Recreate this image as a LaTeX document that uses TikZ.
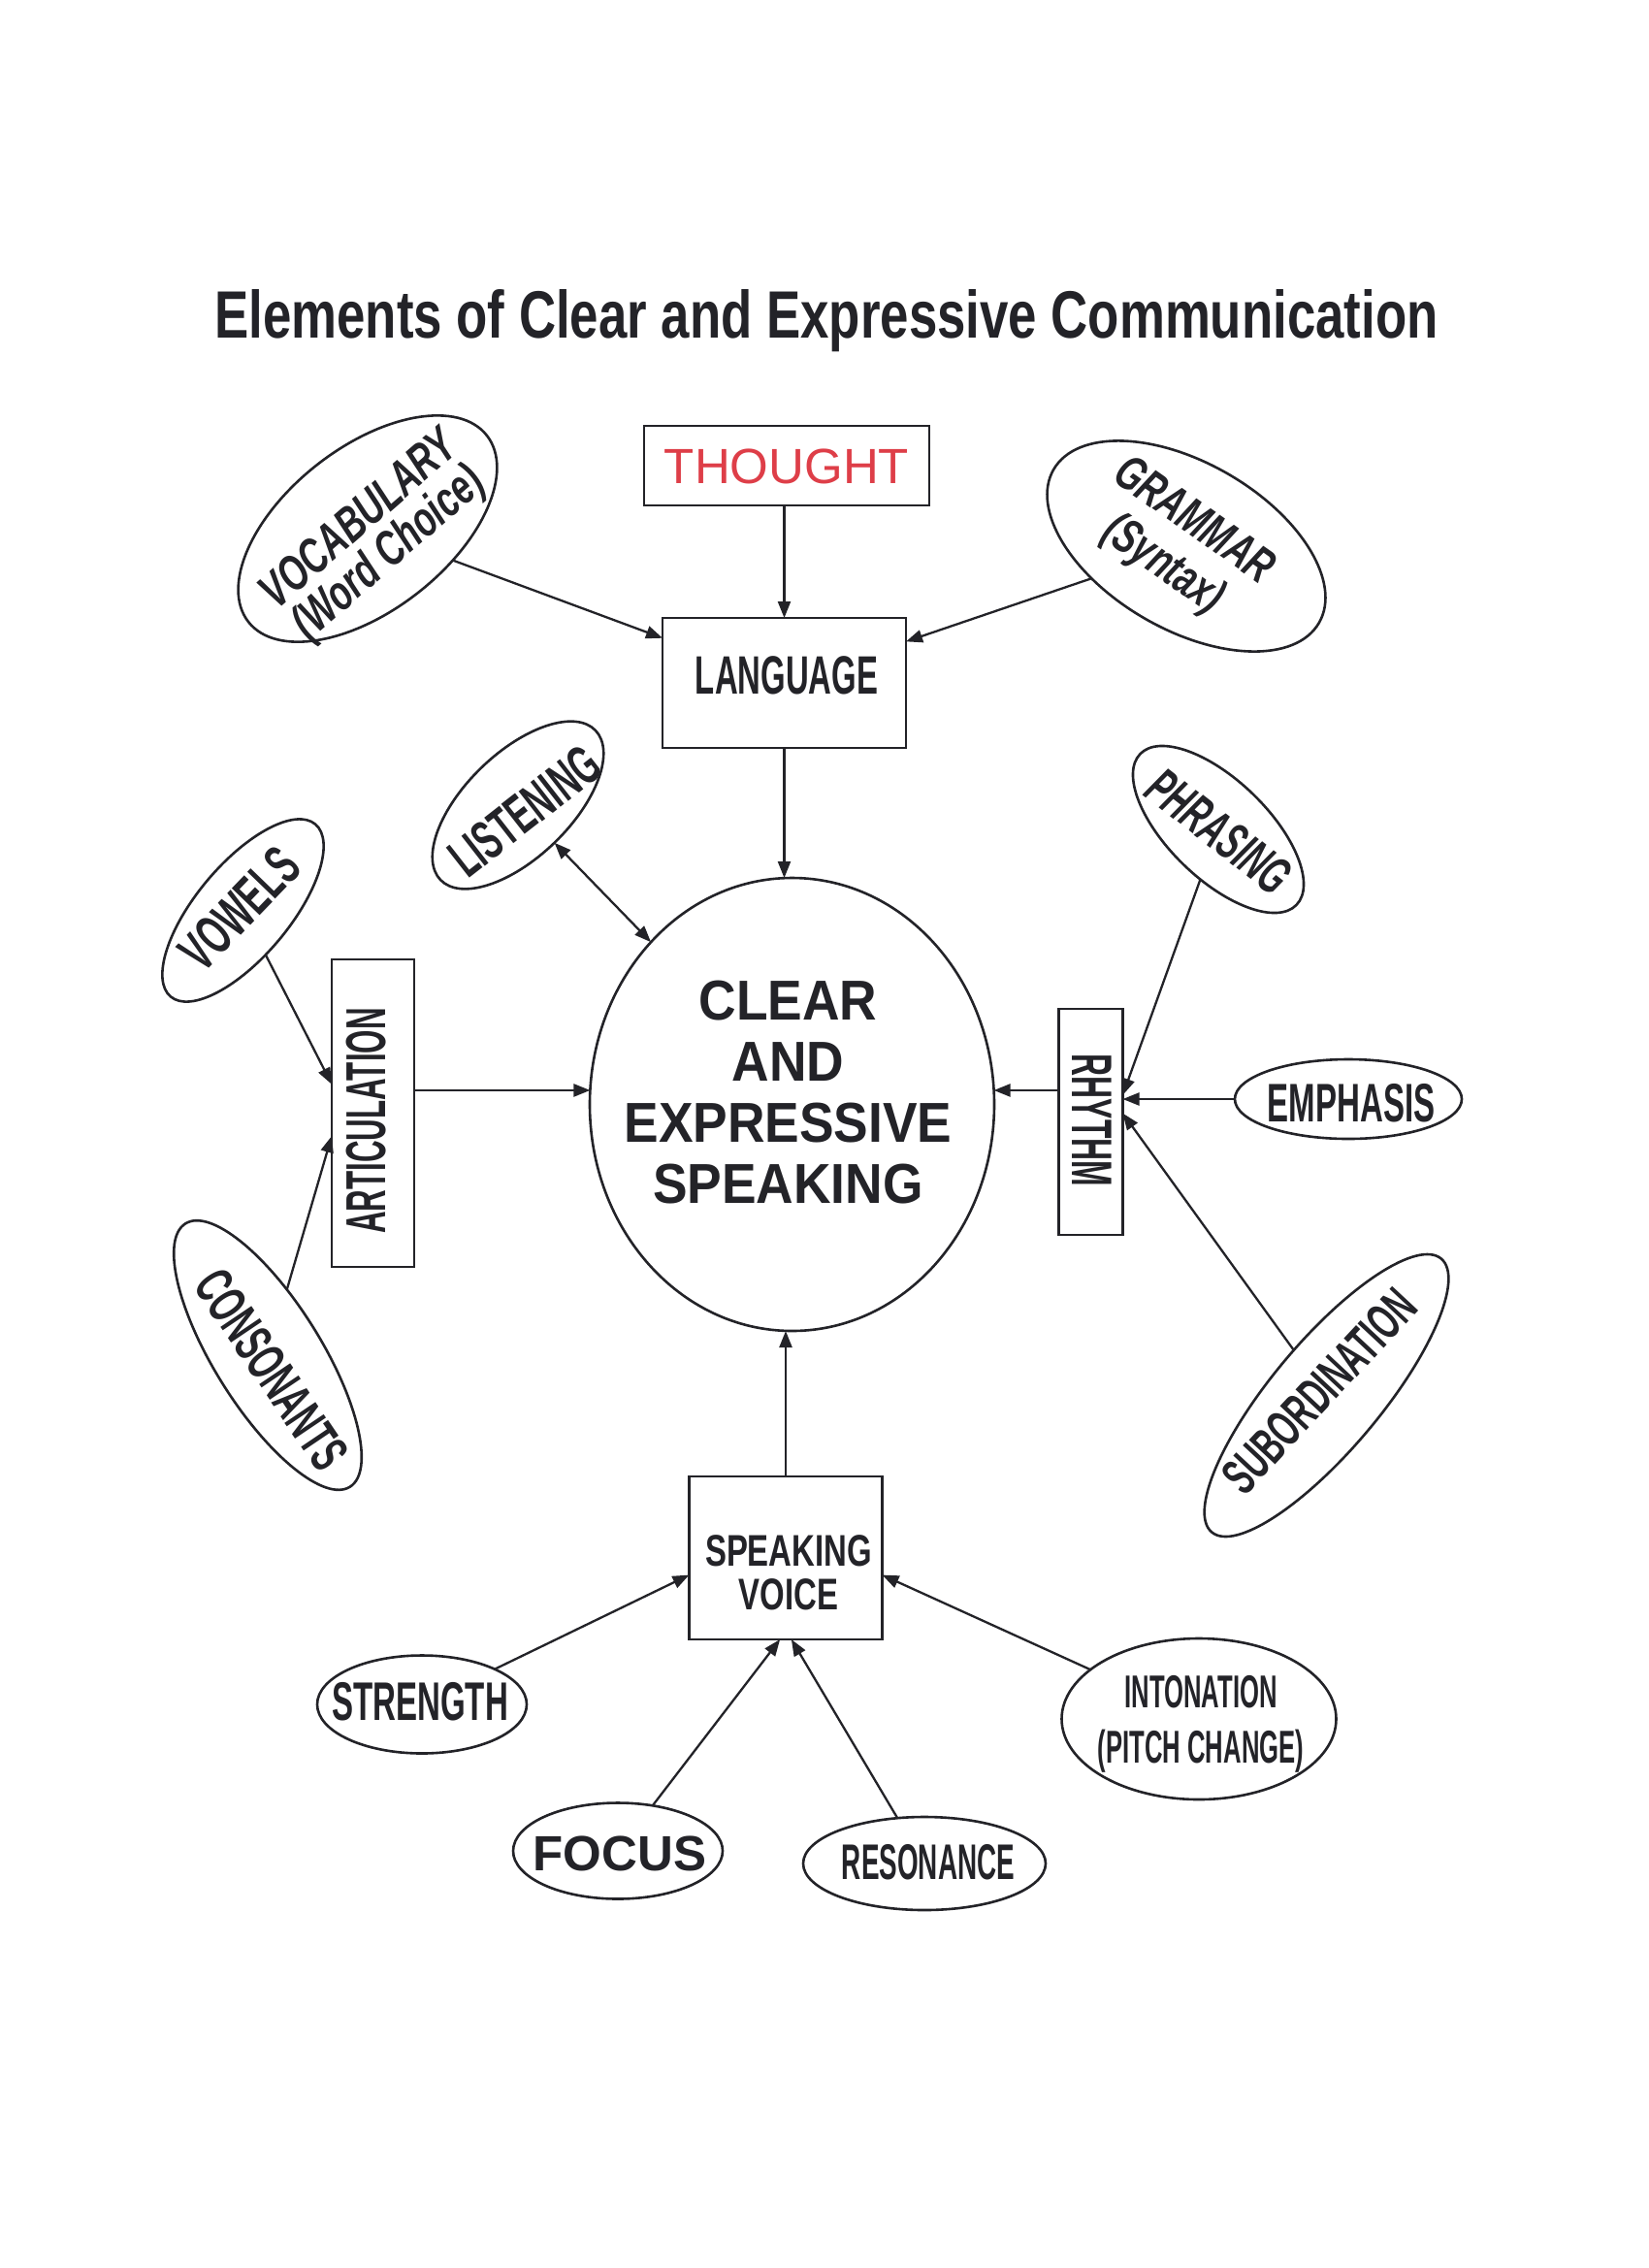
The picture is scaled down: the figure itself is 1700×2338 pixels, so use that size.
\documentclass[tikz,border=0pt]{standalone}
\usepackage{fontspec}
\setmainfont{Liberation Sans}
\newfontfamily\fTitle[FakeStretch=0.765]{Liberation Sans}
\newfontfamily\fN[FakeStretch=0.59]{Liberation Sans}
\newfontfamily\fNN[FakeStretch=0.54]{Liberation Sans}
\newfontfamily\fM[FakeStretch=0.72]{Liberation Sans}
\newfontfamily\fI[FakeStretch=0.70]{Liberation Sans}
\newfontfamily\fC[FakeStretch=0.92]{Liberation Sans}
\usetikzlibrary{shapes.geometric,arrows.meta}
\definecolor{ink}{RGB}{35,35,40}
\definecolor{thoughtred}{RGB}{222,62,72}
\begin{document}
\begin{tikzpicture}[x=1pt,y=-1pt,
  every node/.style={inner sep=0pt, outer sep=0pt, text=ink},
  box/.style={draw=ink, line width=2.8pt, rectangle},
  oval/.style={draw=ink, line width=2.6pt, ellipse},
  arr/.style={draw=ink, line width=2.3pt, -{Triangle[length=17pt,width=13pt]}},
  dbl/.style={draw=ink, line width=2.3pt, {Triangle[length=17pt,width=13pt]}-{Triangle[length=17pt,width=13pt]}},
]
\fill[white] (0,0) rectangle (1700,2338);
\useasboundingbox (0,0) rectangle (1700,2338);

% title
\node[anchor=base, font={\fontsize{69}{72}\selectfont\fTitle\bfseries}] (title) at (852,348) {Elements of Clear and Expressive Communication};

% boxes
\node[box, minimum width=294, minimum height=82] (thought) at (811,480) {};
\node[text=thoughtred, font={\fontsize{51}{55}\selectfont}] (thought-t) at (811,481) {THOUGHT};
\node[box, minimum width=251, minimum height=134] (lang) at (808.5,704) {};
\node[font={\fontsize{55.7}{60}\selectfont\fN\bfseries}] (lang-t) at (811,696) {LANGUAGE};
\node[box, minimum width=85, minimum height=317] (art) at (384.5,1147.5) {};
\node[rotate=90, font={\fontsize{58}{60}\selectfont\fNN\bfseries}] (art-t) at (378,1155.5) {ARTICULATION};
\node[box, minimum width=66, minimum height=233] (rh) at (1124.5,1156.5) {};
\node[rotate=-90, font={\fontsize{59}{60}\selectfont\fNN\bfseries}] (rh-t) at (1126,1155) {RHYTHM};
\node[box, minimum width=199, minimum height=168] (sv) at (810,1606) {};
\node[align=center, font={\fontsize{45.7}{45}\selectfont\fM\bfseries}] (sv-t) at (813,1621) {SPEAKING\\VOICE};

% centre
\node[oval, minimum width=417, minimum height=467] (c) at (816.5,1138.5) {};
\node[align=center, font={\fontsize{58}{62.7}\selectfont\fC\bfseries}] (c-t) at (812.5,1126) {CLEAR\\AND\\EXPRESSIVE\\SPEAKING};

% ovals
\node[oval, rotate=38, minimum width=312, minimum height=168] (voc) at (379,545) {};
\node[rotate=41, align=center, font={\fontsize{51}{46}\selectfont\fI\bfseries\itshape}] (voc-t) at (387,555) {VOCABULARY\\(Word Choice)};
\node[oval, rotate=-30, minimum width=316, minimum height=172] (gram) at (1223,563) {};
\node[rotate=-35, align=center, font={\fontsize{50.5}{55}\selectfont\fI\bfseries\itshape}] (gram-t) at (1214,561) {GRAMMAR\\(Syntax)};
\node[oval, rotate=44, minimum width=222, minimum height=108] (listen) at (534,830) {};
\node[rotate=38, font={\fontsize{57}{60}\selectfont\fN\bfseries}] (listen-t) at (541,836) {LISTENING};
\node[oval, rotate=50, minimum width=232, minimum height=96] (vow) at (250.5,938.5) {};
\node[rotate=46, font={\fontsize{58}{60}\selectfont\fN\bfseries}] (vow-t) at (247,937) {VOWELS};
\node[oval, rotate=-58, minimum width=320, minimum height=110] (cons) at (276,1397) {};
\node[rotate=-56, font={\fontsize{56}{60}\selectfont\fN\bfseries}] (cons-t) at (280,1412) {CONSONANTS};
\node[oval, rotate=-44, minimum width=224, minimum height=102] (phr) at (1256,855) {};
\node[rotate=-38, font={\fontsize{55}{60}\selectfont\fN\bfseries\itshape}] (phr-t) at (1257,857) {PHRASING};
\node[oval, minimum width=234, minimum height=82] (emph) at (1390,1133) {};
\node[font={\fontsize{56}{60}\selectfont\fN\bfseries}] (emph-t) at (1393,1137) {EMPHASIS};
\node[oval, rotate=50, minimum width=368, minimum height=112] (sub) at (1367.5,1438.5) {};
\node[rotate=47, font={\fontsize{53.5}{60}\selectfont\fN\bfseries}] (sub-t) at (1360,1434) {SUBORDINATION};
\node[oval, minimum width=216, minimum height=101] (str) at (435,1757) {};
\node[font={\fontsize{56}{60}\selectfont\fN\bfseries}] (str-t) at (433,1754) {STRENGTH};
\node[oval, minimum width=216, minimum height=99] (focus) at (637,1908) {};
\node[font={\fontsize{51}{55}\selectfont\bfseries}] (focus-t) at (639,1910.5) {FOCUS};
\node[oval, minimum width=250, minimum height=96] (res) at (953,1921) {};
\node[font={\fontsize{51.6}{55}\selectfont\fNN\bfseries}] (res-t) at (957,1920) {RESONANCE};
\node[oval, minimum width=283, minimum height=166] (inton) at (1236,1772) {};
\node[align=center, font={\fontsize{47.5}{57}\selectfont\fNN\bfseries}] (inton-t) at (1238,1777) {INTONATION\\(PITCH CHANGE)};

% connectors
\draw[arr] (thought.south -| lang.north) -- (lang.north);
\draw[arr] (voc) -- (lang);
\draw[arr] (gram) -- (lang);
\draw[arr] (lang.south) -- (lang.south |- c.north);
\draw[dbl] (listen) -- (c.131);
\draw[arr] (vow) -- (art.145);
\draw[arr] (cons) -- (art.209);
\draw[arr] (art.east |- c.176) -- (c.176);
\draw[arr] (rh.west |- c.4) -- (c.4);
\draw[arr] (phr) -- (rh.40);
\draw[arr] (emph) -- (emph -| rh.east);
\draw[arr] (sub) -- (rh.15);
\draw[arr] (sv.north) -- (sv.north |- c.south);
\draw[arr] (str) -- (sv.190);
\draw[arr] (focus) -- (sv.266);
\draw[arr] (res) -- (sv.274);
\draw[arr] (inton) -- (sv.350);
\end{tikzpicture}
\end{document}
